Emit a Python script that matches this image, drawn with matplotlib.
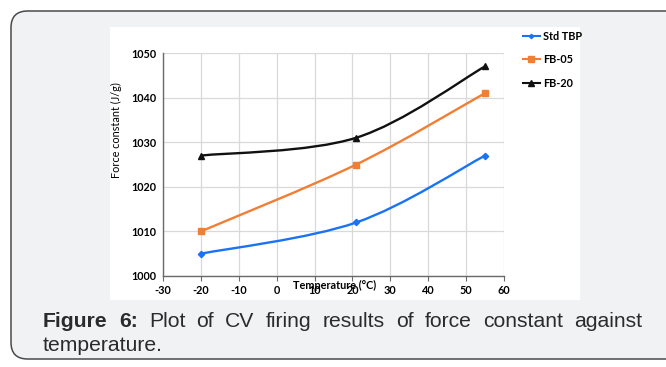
import matplotlib
matplotlib.use("Agg")
import matplotlib.pyplot as plt
import numpy as np
from matplotlib.path import Path
from matplotlib.patches import PathPatch, FancyBboxPatch, Rectangle
from matplotlib.lines import Line2D

# ---------------- data ----------------
temps = [-20, 21, 55]
std_tbp = [1005, 1012, 1027]
fb05 = [1010, 1025, 1041]
fb20 = [1027, 1031, 1047]
series_names = ["Std TBP", "FB-05", "FB-20"]
xticks = [-30, -20, -10, 0, 10, 20, 30, 40, 50, 60]
yticks = [1000, 1010, 1020, 1030, 1040, 1050]
caption_bold = ["Figure", "6:"]
caption_words = ["Plot", "of", "CV", "firing", "results", "of", "force", "constant", "against"]
caption_line2 = "temperature."

colors = ["#1a73f5", "#f07f35", "#111111"]
markers = ["D", "s", "^"]
msizes = [3.2, 5, 5]

W, H = 666, 367
fig = plt.figure(figsize=(W / 100, H / 100), dpi=100)
fig.patch.set_facecolor("white")

# background card
bg = FancyBboxPatch((11 / W, 8 / H), (W + 40 - 11) / W, (H - 3 - 8 - 8) / H,
                    boxstyle="round,pad=0,rounding_size=0.025",
                    transform=fig.transFigure, facecolor="#f1f2f4",
                    edgecolor="#4a4a4a", linewidth=1.1, clip_on=False, zorder=0,
                    mutation_aspect=W / H)
fig.patches.append(bg)
# white chart area
fig.patches.append(Rectangle((110 / W, 1 - 300 / H), (580 - 110) / W, (300 - 27) / H,
                             transform=fig.transFigure, facecolor="white",
                             edgecolor="none", zorder=0.5))

lab_font = ["Lato", "DejaVu Sans"]
lab_size = 7.8

ax = fig.add_axes([163 / W, 1 - 276 / H, (504 - 163) / W, (276 - 53) / H])
ax.set_zorder(2)
ax.set_facecolor("none")
ax.set_xlim(-30, 60)
ax.set_ylim(1000, 1050)
ax.set_xticks(xticks)
ax.set_yticks(yticks)
ax.grid(True, color="#d9d9d9", linewidth=0.9)
ax.set_axisbelow(True)
for s in ["top", "right"]:
    ax.spines[s].set_visible(False)
for s in ["left", "bottom"]:
    ax.spines[s].set_color("#6a6a6a")
    ax.spines[s].set_linewidth(1.0)
tickfont = dict(family=lab_font, weight="bold", size=lab_size)
ax.tick_params(axis="x", length=3.5, width=0.8, color="#6a6a6a", pad=3)
ax.tick_params(axis="y", length=0, pad=5)
ax.set_xticklabels([str(t) for t in xticks], **tickfont)
ax.set_yticklabels([str(t) for t in yticks], **tickfont)


def smooth_path(xs, ys):
    pts = np.column_stack([xs, ys]).astype(float)
    n = len(pts)
    verts = [pts[0]]
    codes = [Path.MOVETO]
    for i in range(n - 1):
        p0 = pts[i - 1] if i > 0 else pts[i]
        p1 = pts[i]
        p2 = pts[i + 1]
        p3 = pts[i + 2] if i + 2 < n else pts[i + 1]
        c1 = p1 + (p2 - p0) / 6.0
        c2 = p2 - (p3 - p1) / 6.0
        verts += [c1, c2, p2]
        codes += [Path.CURVE4] * 3
    return Path(verts, codes)


handles = []
for vals, c, m, ms, name in zip([std_tbp, fb05, fb20], colors, markers, msizes, series_names):
    ax.add_patch(PathPatch(smooth_path(temps, vals), facecolor="none", edgecolor=c,
                           linewidth=1.7, zorder=3))
    ax.plot(temps, vals, linestyle="none", marker=m, color=c, markersize=ms, zorder=4)
    handles.append(Line2D([], [], color=c, marker=m, markersize=ms - 1, linewidth=1.5, label=name))

leg = fig.legend(handles=handles, loc="upper left", bbox_to_anchor=(513 / W, 1 - 21 / H),
                 frameon=False, handlelength=1.6, handletextpad=0.3, labelspacing=1.15,
                 prop=dict(family=lab_font, weight="bold", size=lab_size))
leg.set_zorder(3)

fig.text(116 / W, 1 - 130 / H, "Force constant (J/g)", rotation=90, ha="center", va="center",
         fontsize=lab_size, family=lab_font, zorder=3)
fig.text(335 / W, 1 - 285 / H, "Temperature (°C)", ha="center", va="center",
         fontsize=lab_size, family=lab_font, weight="bold", zorder=3)

# caption, justified first line
cap_font = ["Liberation Sans", "DejaVu Sans"]
cap_size = 15.2
cap_color = "#2b2b2b"
renderer = fig.canvas.get_renderer()
x_left, x_right = 43, 642
y1, y2 = H - 327, H - 351
texts = []
for w in caption_bold:
    texts.append(fig.text(0, y1 / H, w, fontsize=cap_size, family=cap_font, weight="bold",
                          color=cap_color, va="baseline", ha="left", zorder=3))
for w in caption_words:
    texts.append(fig.text(0, y1 / H, w, fontsize=cap_size, family=cap_font,
                          color=cap_color, va="baseline", ha="left", zorder=3))
widths = [t.get_window_extent(renderer).width for t in texts]
gap = (x_right - x_left - sum(widths)) / (len(texts) - 1)
x = x_left
for t, wd in zip(texts, widths):
    t.set_x(x / W)
    x += wd + gap
fig.text(x_left / W, y2 / H, caption_line2, fontsize=cap_size, family=cap_font,
         color=cap_color, va="baseline", ha="left", zorder=3)

fig.savefig("out.png", dpi=100, facecolor=fig.get_facecolor())
